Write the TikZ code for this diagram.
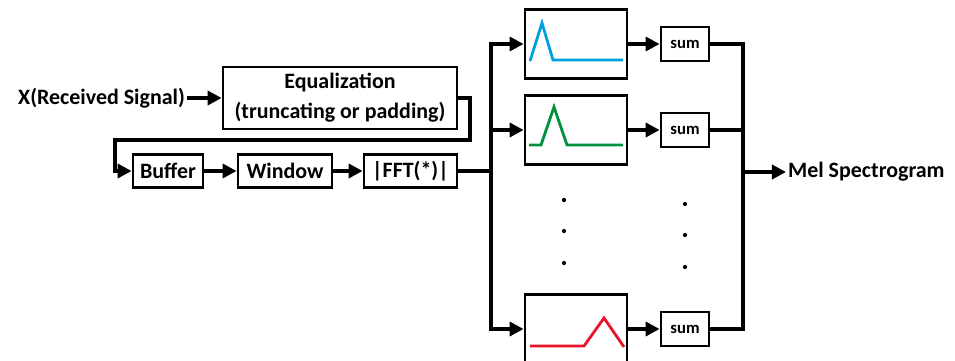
\documentclass[tikz,border=0pt]{standalone}
\usepackage{fontspec}
\setmainfont{Carlito}
\usetikzlibrary{arrows.meta}
\definecolor{peakblue}{RGB}{0,160,222}
\definecolor{peakgreen}{RGB}{0,146,60}
\definecolor{peakred}{RGB}{232,20,40}

\begin{document}
\begin{tikzpicture}[>={Triangle[length=8pt,width=8pt]},x=0.02cm,y=-0.02cm,
    every node/.style={font=\bfseries\fontsize{12.5}{17}\selectfont},
    blockbox/.style={draw,line width=1.6pt,inner sep=0pt,align=center},
    sumbox/.style={draw,line width=1.6pt,inner sep=0pt,minimum width=0.96cm,minimum height=0.68cm,font=\bfseries\fontsize{9.5}{11}\selectfont},
    filterbox/.style={draw,line width=1.6pt,minimum width=2.04cm,minimum height=1.38cm},
    wire/.style={line width=2.2pt}]
                \useasboundingbox (0,0) rectangle (955,361);
                \node [anchor=east,inner sep=1pt] (input) at (187,98) {X(Received Signal)};
                \node [blockbox,minimum width=4.68cm,minimum height=1.24cm] (eq) at (340,98) {Equalization\\(truncating or padding)};
                \node [blockbox,minimum width=1.4cm,minimum height=0.66cm] (buffer) at (168,171) {Buffer};
                \node [blockbox,minimum width=1.88cm,minimum height=0.66cm] (window) at (285,171) {Window};
                \node [blockbox,minimum width=1.86cm,minimum height=0.66cm] (fft) at (410.5,171) {|FFT(*)|};
                \node [filterbox] (filt1) at (576,44) {};
                \node [filterbox] (filt2) at (576,130) {};
                \node [filterbox] (filt3) at (576,329) {};
                \node [sumbox] (sum1) at (685,44) {sum};
                \node [sumbox] (sum2) at (685,130) {sum};
                \node [sumbox] (sum3) at (685,329) {sum};
                \node [anchor=west,inner sep=1pt] (out) at (786,172) {Mel Spectrogram};
                \coordinate (turnA) at (470,140);
                \coordinate (turnB) at (115,140);
                \coordinate (busL) at (491,171);
                \coordinate (busR) at (743,172);
                \draw [wire,->] (input) -- (eq);
                \draw [wire,->] (eq.east) -| (turnA) -- (turnB) |- (buffer.west);
                \draw [wire,->] (buffer) -- (window);
                \draw [wire,->] (window) -- (fft);
                \draw [wire] (fft.east) -- (busL);
                \foreach \f in {1,2,3}
                    {
                        \draw [wire,->] (busL) |- (filt\f.west);
                        \draw [wire,->] (filt\f.east) -- (sum\f.west);
                        \draw [wire] (sum\f.east) -| (busR);
                    }
                \draw [wire,->] (busR) -- (out.west);
                \draw [peakblue,line width=1.6pt] (530,61)--(542,23)--(553,60)--(623,60);
                \draw [peakgreen,line width=1.6pt] (529,145)--(541,145)--(554,107)--(567,145)--(623,145);
                \draw [peakred,line width=1.6pt] (530,346)--(584,346)--(604,318)--(624,347);
                \foreach \y in {200,231,263}
                    {
                        \fill (564,\y) circle (1.2pt);
                        \fill (685,\y+4) circle (1.2pt);
                    }
            \end{tikzpicture}
\end{document}
